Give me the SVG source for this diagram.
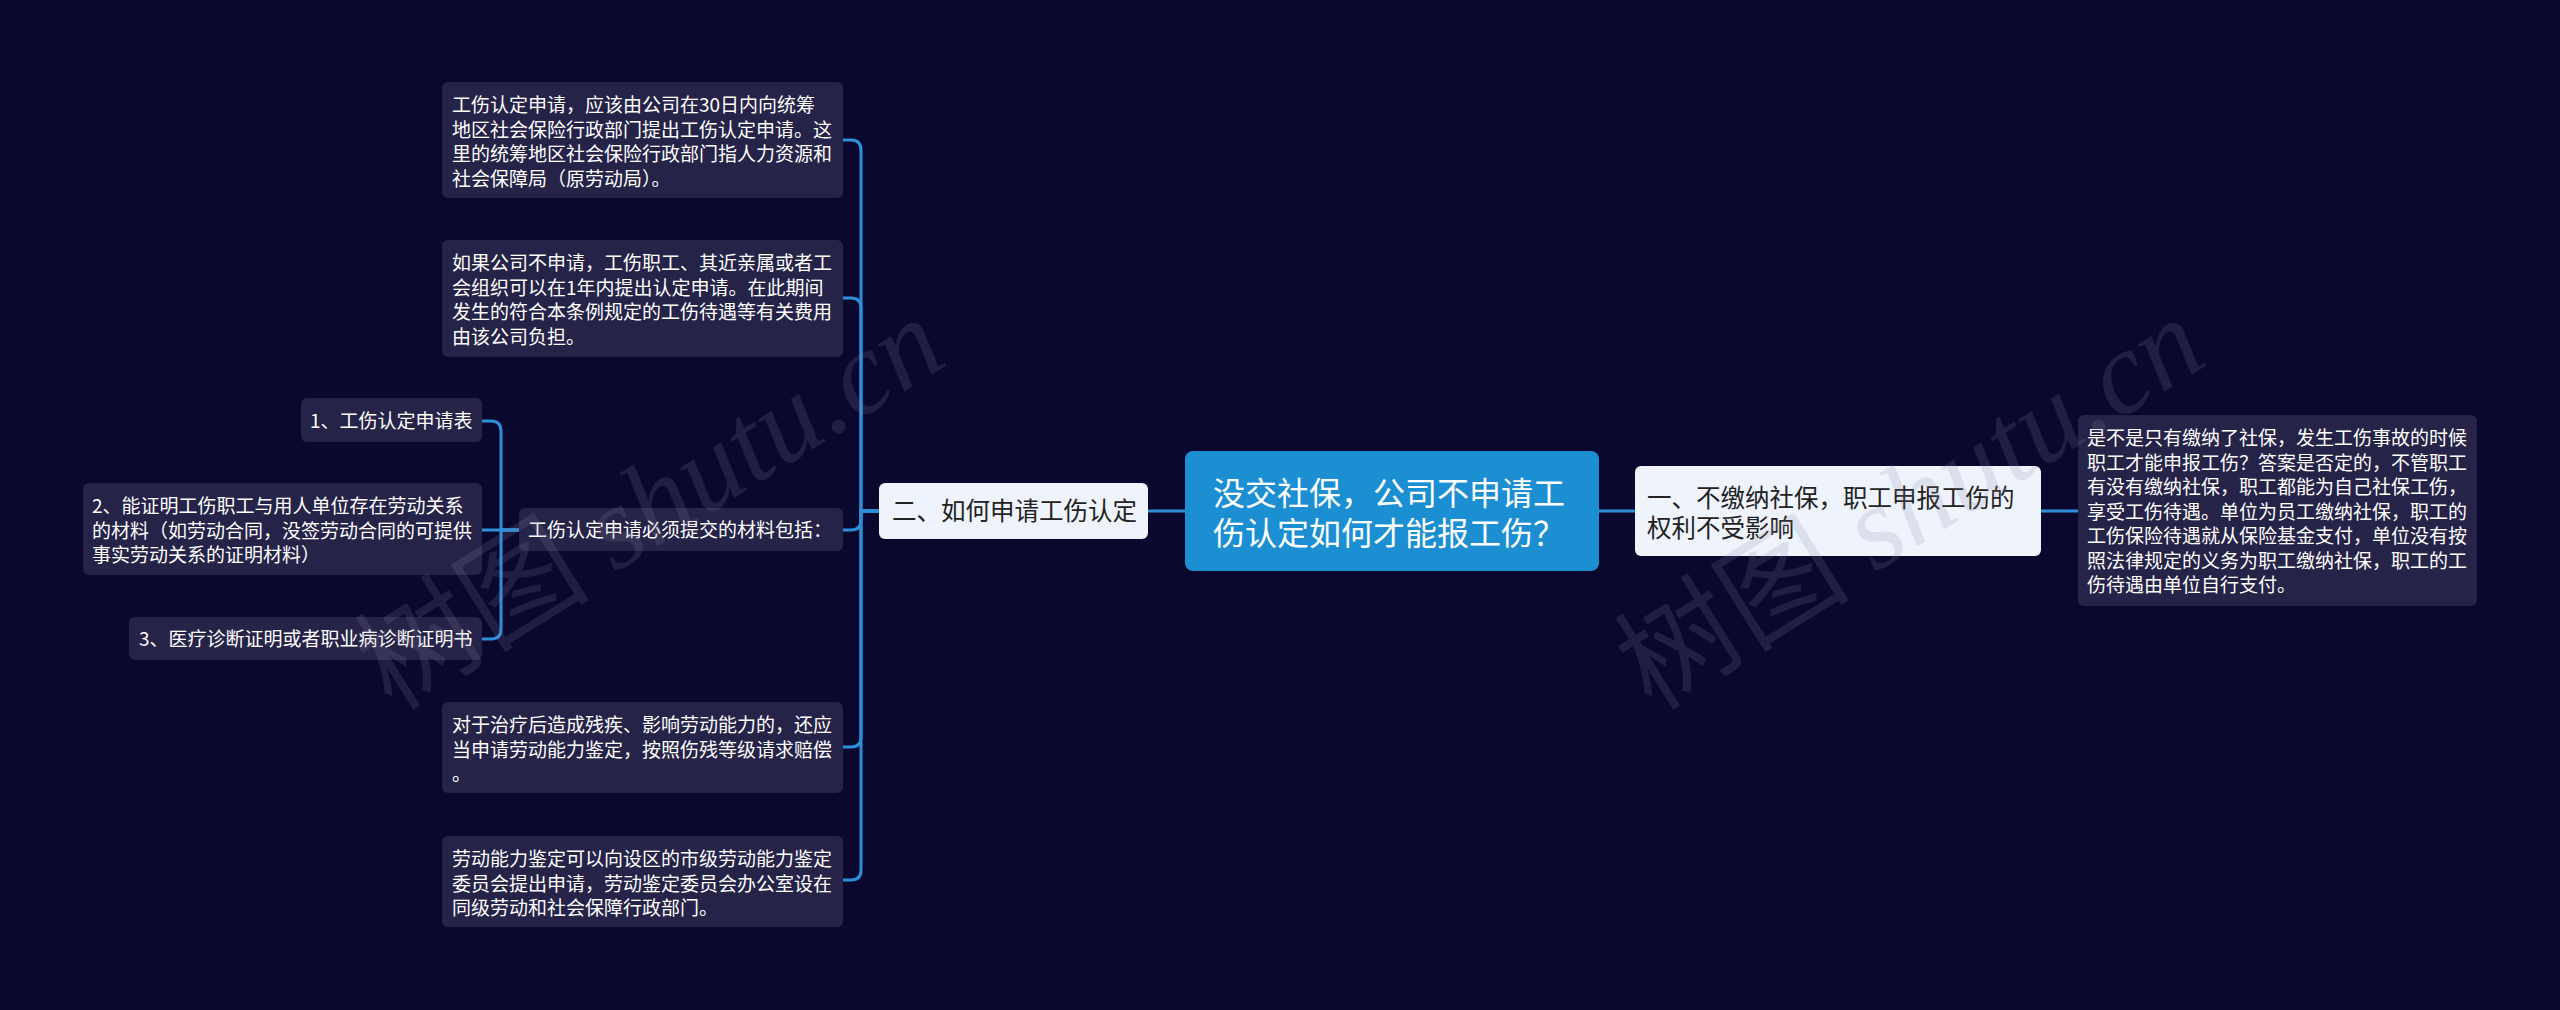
<svg xmlns="http://www.w3.org/2000/svg" width="2560" height="1010" viewBox="0 0 2560 1010">
<style>
text{font-family:"Noto Sans CJK SC","Noto Sans",sans-serif}
.leaf{fill:#262348}
.lt{fill:#ffffff;font-size:19px}
.l1{fill:#eef3fc}
.l1t{fill:#222222;font-size:24.5px}
.root{fill:#1b8fd2}
.rt{fill:#ffffff;font-size:32px}
.c{fill:none;stroke:#2e8fd8;stroke-width:3}
.wm{fill:#8a8aa0;opacity:0.17;font-size:118px}
.wm .lat{font-family:"Liberation Serif",serif;font-style:italic}
</style>
<rect width="2560" height="1010" fill="#0b0830"/>
<g id="connectors">
<path class="c" d="M1185 511H1148"/>
<path class="c" d="M1599 511H1635"/>
<path class="c" d="M2041 511H2078"/>
<path class="c" d="M879 511H861V150Q861 140 851 140H843"/>
<path class="c" d="M879 511H861V308Q861 298 851 298H843"/>
<path class="c" d="M879 511H861V520Q861 530 851 530H843"/>
<path class="c" d="M879 511H861V737Q861 747 851 747H843"/>
<path class="c" d="M879 511H861V870Q861 880 851 880H843"/>
<path class="c" d="M519 530H501V431Q501 421 491 421H482"/>
<path class="c" d="M519 530H482"/>
<path class="c" d="M519 530H501V629Q501 639 491 639H482"/>
</g>
<g id="root">
<rect class="root" x="1185" y="451" width="414" height="120" rx="8"/>
<text class="rt" x="1213" y="505">没交社保，公司不申请工</text>
<text class="rt" x="1213" y="545">伤认定如何才能报工伤？</text>
</g>
<g id="n2">
<rect class="l1" x="879" y="483" width="269" height="56" rx="6"/>
<text class="l1t" x="892" y="520">二、如何申请工伤认定</text>
</g>
<g id="n1">
<rect class="l1" x="1635" y="466" width="406" height="90" rx="6"/>
<text class="l1t" x="1647" y="507">一、不缴纳社保，职工申报工伤的</text>
<text class="l1t" x="1647" y="537">权利不受影响</text>
</g>
<g id="n1a">
<rect class="leaf" x="2078" y="415" width="399" height="191" rx="6"/>
<text class="lt" x="2087" y="445">是不是只有缴纳了社保，发生工伤事故的时候</text>
<text class="lt" x="2087" y="469.5">职工才能申报工伤？答案是否定的，不管职工</text>
<text class="lt" x="2087" y="494">有没有缴纳社保，职工都能为自己社保工伤，</text>
<text class="lt" x="2087" y="518.5">享受工伤待遇。单位为员工缴纳社保，职工的</text>
<text class="lt" x="2087" y="543">工伤保险待遇就从保险基金支付，单位没有按</text>
<text class="lt" x="2087" y="567.5">照法律规定的义务为职工缴纳社保，职工的工</text>
<text class="lt" x="2087" y="592">伤待遇由单位自行支付。</text>
</g>
<g id="n2a">
<rect class="leaf" x="442" y="82" width="401" height="116" rx="6"/>
<text class="lt" x="452" y="112">工伤认定申请，应该由公司在30日内向统筹</text>
<text class="lt" x="452" y="136.5">地区社会保险行政部门提出工伤认定申请。这</text>
<text class="lt" x="452" y="161">里的统筹地区社会保险行政部门指人力资源和</text>
<text class="lt" x="452" y="185.5">社会保障局（原劳动局）。</text>
</g>
<g id="n2b">
<rect class="leaf" x="442" y="240" width="401" height="117" rx="6"/>
<text class="lt" x="452" y="270">如果公司不申请，工伤职工、其近亲属或者工</text>
<text class="lt" x="452" y="294.5">会组织可以在1年内提出认定申请。在此期间</text>
<text class="lt" x="452" y="319">发生的符合本条例规定的工伤待遇等有关费用</text>
<text class="lt" x="452" y="343.5">由该公司负担。</text>
</g>
<g id="n2c">
<rect class="leaf" x="519" y="508" width="324" height="43" rx="6"/>
<text class="lt" x="528" y="537">工伤认定申请必须提交的材料包括：</text>
</g>
<g id="n2c1">
<rect class="leaf" x="301" y="398" width="181" height="44" rx="6"/>
<text class="lt" x="310" y="428">1、工伤认定申请表</text>
</g>
<g id="n2c2">
<rect class="leaf" x="83" y="483" width="399" height="92" rx="6"/>
<text class="lt" x="92" y="513">2、能证明工伤职工与用人单位存在劳动关系</text>
<text class="lt" x="92" y="537.5">的材料（如劳动合同，没签劳动合同的可提供</text>
<text class="lt" x="92" y="562">事实劳动关系的证明材料）</text>
</g>
<g id="n2c3">
<rect class="leaf" x="129" y="617" width="353" height="43" rx="6"/>
<text class="lt" x="139" y="646">3、医疗诊断证明或者职业病诊断证明书</text>
</g>
<g id="n2d">
<rect class="leaf" x="442" y="702" width="401" height="91" rx="6"/>
<text class="lt" x="452" y="732">对于治疗后造成残疾、影响劳动能力的，还应</text>
<text class="lt" x="452" y="756.5">当申请劳动能力鉴定，按照伤残等级请求赔偿</text>
<text class="lt" x="452" y="781">。</text>
</g>
<g id="n2e">
<rect class="leaf" x="442" y="836" width="401" height="91" rx="6"/>
<text class="lt" x="452" y="866">劳动能力鉴定可以向设区的市级劳动能力鉴定</text>
<text class="lt" x="452" y="890.5">委员会提出申请，劳动鉴定委员会办公室设在</text>
<text class="lt" x="452" y="915">同级劳动和社会保障行政部门。</text>
</g>
<g id="watermarks">
<text class="wm" transform="translate(392 712) rotate(-32)">树图 <tspan class="lat">shutu.cn</tspan></text>
<text class="wm" transform="translate(1652 712) rotate(-32)">树图 <tspan class="lat">shutu.cn</tspan></text>
</g>
</svg>
